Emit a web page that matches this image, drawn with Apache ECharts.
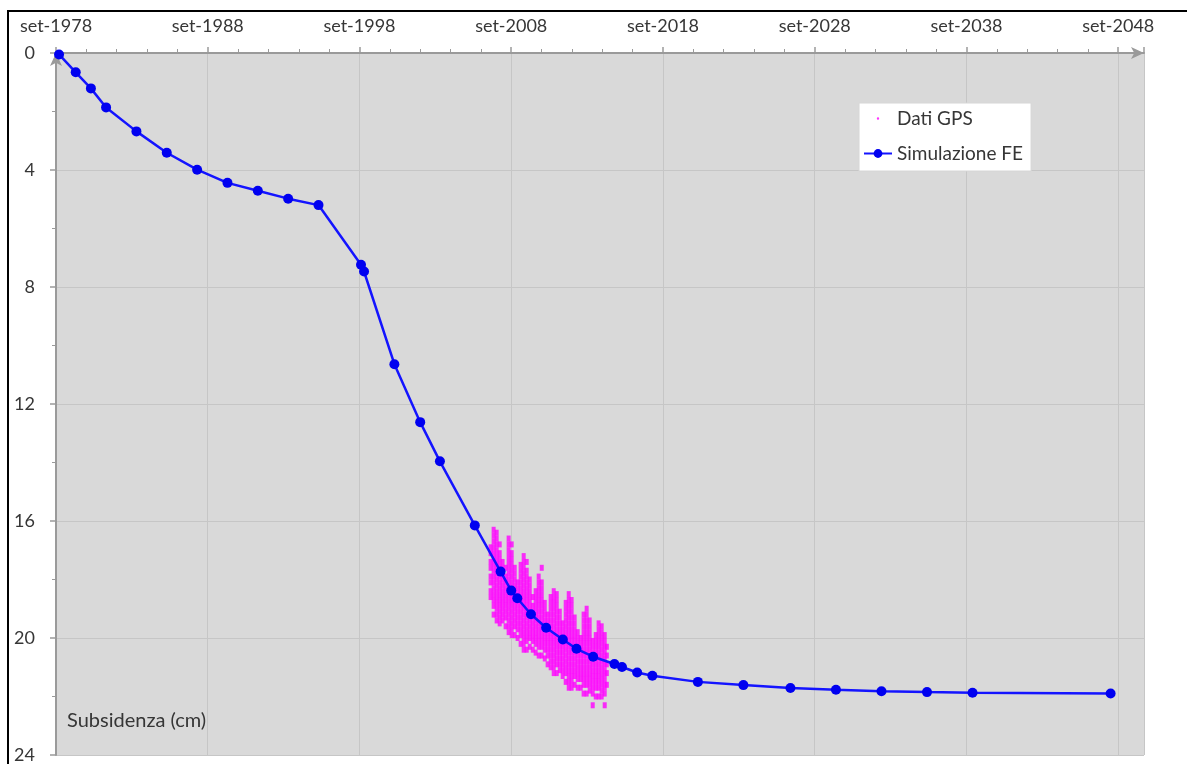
<!DOCTYPE html>
<html>
<head>
<meta charset="utf-8">
<script src="https://cdn.jsdelivr.net/npm/echarts@6/dist/echarts.min.js"></script>
<style>
  html, body { margin: 0; padding: 0; background: #fff; }
  #chart { width: 1187px; height: 764px; }
</style>
</head>
<body>
<div id="chart"></div>
<script>
// x values: years since set-1978; y values: subsidence in cm
const startYear = 1978;

const simTime = [0.2, 1.3, 2.3, 3.3, 5.3, 7.3, 9.3, 11.3, 13.3, 15.3, 17.3, 20.1, 20.3, 22.3, 24.0, 25.3, 27.6,
  29.3, 30.0, 30.4, 31.3, 32.3, 33.4, 34.3, 35.4, 36.8, 37.3, 38.3, 39.3, 42.3, 45.3, 48.4, 51.4, 54.4, 57.4, 60.4, 69.5];
const simSubs = [0.05, 0.66, 1.21, 1.86, 2.68, 3.41, 3.99, 4.44, 4.71, 4.98, 5.2, 7.24, 7.47, 10.64, 12.62, 13.96, 16.15,
  17.73, 18.38, 18.64, 19.19, 19.65, 20.05, 20.37, 20.64, 20.89, 20.99, 21.18, 21.29, 21.5, 21.61, 21.71, 21.77, 21.82, 21.85, 21.87, 21.9];

const gpsTime = [28.64, 28.84, 29.04, 29.24, 29.43, 29.63, 29.83, 30.03, 30.23, 30.42,
  30.62, 30.82, 31.02, 31.22, 31.42, 31.61, 31.81, 32.01, 32.21, 32.40,
  32.60, 32.80, 33.00, 33.20, 33.39, 33.59, 33.79, 33.98, 34.18, 34.38,
  34.58, 34.77, 34.97, 35.17, 35.37, 35.57, 35.76, 35.96, 36.16, 36.30];
const gpsSubs = [
  [16.9, 17.1, 17.4, 17.6, 17.9, 18.1, 18.4, 18.6],
  [16.3, 16.5, 16.7, 16.9, 17.1, 17.3, 17.5, 17.7, 17.9, 18.1, 18.3, 18.5, 18.7, 18.9, 19.2],
  [16.4, 16.6, 16.8, 17.0, 17.2, 17.4, 17.6, 17.8, 18.0, 18.2, 18.4, 18.6, 18.8, 19.0, 19.2, 19.4],
  [16.8, 17.1, 17.3, 17.5, 17.7, 17.9, 18.1, 18.3, 18.5, 18.7, 18.9, 19.1, 19.3, 19.5],
  [17.4, 17.6, 17.8, 18.0, 18.2, 18.4, 18.6, 18.8, 19.0, 19.2, 19.4],
  [17.6, 17.9, 18.1, 18.3, 18.5, 18.7, 18.9, 19.1, 19.3, 19.6],
  [16.6, 16.8, 17.0, 17.2, 17.4, 17.6, 17.8, 18.0, 18.2, 18.4, 18.6, 18.8, 19.0, 19.2, 19.4, 19.6, 19.8],
  [16.8, 17.1, 17.3, 17.5, 17.7, 17.9, 18.1, 18.3, 18.5, 18.7, 18.9, 19.1, 19.3, 19.5, 19.7, 19.9],
  [17.6, 17.8, 18.0, 18.2, 18.4, 18.6, 18.8, 19.0, 19.2, 19.4, 19.6, 19.9],
  [18.1, 18.3, 18.5, 18.7, 18.9, 19.1, 19.3, 19.5, 19.7, 20.0],
  [17.5, 17.7, 17.9, 18.1, 18.3, 18.5, 18.7, 18.9, 19.1, 19.3, 19.5, 19.7, 19.9, 20.2],
  [17.2, 17.4, 17.6, 17.8, 18.0, 18.2, 18.4, 18.6, 18.8, 19.0, 19.2, 19.4, 19.6, 19.8, 20.0, 20.2, 20.4],
  [17.4, 17.7, 17.9, 18.1, 18.3, 18.5, 18.7, 18.9, 19.1, 19.3, 19.5, 19.7, 19.9, 20.1, 20.4],
  [18.0, 18.2, 18.4, 18.6, 18.8, 19.0, 19.2, 19.4, 19.6, 19.8, 20.0, 20.3],
  [18.6, 18.9, 19.1, 19.3, 19.5, 19.7, 19.9, 20.1, 20.4],
  [18.4, 18.6, 18.8, 19.0, 19.2, 19.4, 19.6, 19.8, 20.0, 20.2, 20.5],
  [17.9, 18.1, 18.3, 18.5, 18.7, 18.9, 19.1, 19.3, 19.5, 19.7, 19.9, 20.1, 20.3, 20.6],
  [17.6, 18.1, 18.3, 18.5, 18.7, 18.9, 19.1, 19.3, 19.5, 19.7, 19.9, 20.1, 20.3, 20.6],
  [18.8, 19.0, 19.2, 19.4, 19.6, 19.8, 20.0, 20.2, 20.4, 20.7],
  [19.2, 19.4, 19.6, 19.8, 20.0, 20.2, 20.4, 20.6, 20.9],
  [18.6, 18.8, 19.0, 19.2, 19.4, 19.6, 19.8, 20.0, 20.2, 20.4, 20.6, 20.8, 21.0],
  [18.4, 18.6, 18.8, 19.0, 19.2, 19.4, 19.6, 19.8, 20.0, 20.2, 20.4, 20.6, 20.8, 21.0, 21.2],
  [18.5, 18.7, 18.9, 19.1, 19.3, 19.5, 19.7, 19.9, 20.1, 20.3, 20.5, 20.7, 20.9, 21.2],
  [19.1, 19.3, 19.5, 19.7, 19.9, 20.1, 20.3, 20.5, 20.7, 20.9, 21.1],
  [19.5, 19.7, 19.9, 20.1, 20.3, 20.5, 20.7, 20.9, 21.1, 21.3],
  [18.8, 19.0, 19.2, 19.4, 19.6, 19.8, 20.0, 20.2, 20.4, 20.6, 20.8, 21.0, 21.2, 21.5],
  [18.5, 18.7, 18.9, 19.1, 19.3, 19.5, 19.7, 19.9, 20.1, 20.3, 20.5, 20.7, 20.9, 21.1, 21.3, 21.5, 21.7],
  [18.7, 18.9, 19.1, 19.3, 19.5, 19.7, 19.9, 20.1, 20.3, 20.5, 20.7, 20.9, 21.1, 21.3, 21.5, 21.7],
  [19.3, 19.5, 19.7, 19.9, 20.1, 20.3, 20.5, 20.7, 20.9, 21.1, 21.3, 21.6],
  [19.8, 20.0, 20.2, 20.4, 20.6, 20.8, 21.0, 21.2, 21.4, 21.7],
  [20.0, 20.2, 20.4, 20.6, 20.8, 21.0, 21.2, 21.4, 21.7],
  [19.2, 19.4, 19.6, 19.8, 20.0, 20.2, 20.4, 20.6, 20.8, 21.0, 21.2, 21.4, 21.6, 21.9],
  [19.0, 19.2, 19.4, 19.6, 19.8, 20.0, 20.2, 20.4, 20.6, 20.8, 21.0, 21.2, 21.4, 21.6, 21.9],
  [19.4, 19.6, 19.8, 20.0, 20.2, 20.4, 20.6, 20.8, 21.0, 21.2, 21.4, 21.6, 21.8],
  [20.1, 20.3, 20.5, 20.7, 20.9, 21.1, 21.3, 21.5, 21.7, 21.9, 22.3],
  [19.9, 20.1, 20.3, 20.5, 20.7, 20.9, 21.1, 21.3, 21.5, 21.7, 22.0],
  [19.5, 19.7, 19.9, 20.1, 20.3, 20.5, 20.7, 20.9, 21.1, 21.3, 21.5, 21.7, 22.0],
  [19.6, 19.8, 20.0, 20.2, 20.4, 20.6, 20.8, 21.0, 21.2, 21.4, 21.6, 21.8, 22.0],
  [19.9, 20.1, 20.3, 20.5, 20.7, 20.9, 21.1, 21.3, 21.5, 21.7, 21.9, 22.3],
  [20.3, 20.6, 20.9, 21.2, 21.6]
];

const font = 'Lato, "Open Sans", sans-serif';
const textColor = '#363636';
const axisColor = '#9a9a9a';

const chart = echarts.init(document.getElementById('chart'));

const simData = simTime.map((t, i) => [t, simSubs[i]]);
const gpsData = [];
gpsTime.forEach((t, i) => gpsSubs[i].forEach(s => gpsData.push([t, s])));

chart.setOption({
  animation: false,
  textStyle: { fontFamily: font },
  graphic: [
    {
      type: 'rect',
      shape: { x: 8, y: 11, width: 1300, height: 900 },
      style: { fill: 'none', stroke: '#000', lineWidth: 2 },
      silent: true
    },
    {
      type: 'text',
      left: 67,
      top: 711,
      style: { text: 'Subsidenza (cm)', font: '20px ' + font, fill: textColor }
    }
  ],
  grid: {
    left: 56, top: 53, right: 43, bottom: 9,
    show: true, backgroundColor: '#d9d9d9', borderWidth: 0
  },
  legend: {
    left: 859, top: 103,
    orient: 'vertical',
    backgroundColor: '#fff',
    borderColor: '#d6d6d6',
    borderWidth: 1,
    padding: [6, 8, 8, 4],
    itemWidth: 28, itemHeight: 11, itemGap: 16,
    textStyle: { fontFamily: font, fontSize: 19, color: textColor, lineHeight: 19 },
    data: [
      { name: 'Dati GPS', icon: 'path://M0,0L0.01,0Z M28,14L27.99,14Z M14,5.5A1.5,1.5 0 1,1 13.99,5.5Z' },
      { name: 'Simulazione FE' }
    ]
  },
  xAxis: {
    type: 'value',
    position: 'top',
    min: 0, max: 71.7, interval: 10,
    axisLine: { show: true, symbol: ['none', 'arrow'], symbolSize: [9, 13], lineStyle: { color: axisColor, width: 2 } },
    axisTick: { show: true, length: 6, lineStyle: { color: axisColor, width: 1.5 } },
    minorTick: { show: true, splitNumber: 5, length: 4, lineStyle: { color: axisColor } },
    splitLine: { show: true, lineStyle: { color: '#c6c6c6', width: 1 } },
    axisLabel: {
      margin: 18, fontSize: 18, color: textColor, fontFamily: font,
      formatter: v => (Math.abs(v % 10) < 1e-6 ? 'set-' + (startYear + v) : '')
    }
  },
  yAxis: {
    type: 'value',
    inverse: true,
    min: 0, max: 24, interval: 4,
    axisLine: { show: true, symbol: ['none', 'arrow'], symbolSize: [9, 13], lineStyle: { color: axisColor, width: 2 } },
    axisTick: { show: true, length: 6, lineStyle: { color: axisColor, width: 1.5 } },
    minorTick: { show: true, splitNumber: 2, length: 4, lineStyle: { color: axisColor } },
    splitLine: { show: true, lineStyle: { color: '#c6c6c6', width: 1 } },
    axisLabel: { margin: 21, fontSize: 18, color: textColor, fontFamily: font }
  },
  series: [
    {
      name: 'Dati GPS',
      type: 'scatter',
      data: gpsData,
      symbol: 'rect',
      symbolSize: [4, 6],
      itemStyle: { color: '#ff00ff' },
      z: 2
    },
    {
      name: 'Simulazione FE',
      type: 'line',
      data: simData,
      symbol: 'circle',
      symbolSize: 10,
      lineStyle: { color: '#1414ff', width: 2.5 },
      itemStyle: { color: '#0000f0' },
      z: 3
    }
  ]
});
</script>
</body>
</html>
